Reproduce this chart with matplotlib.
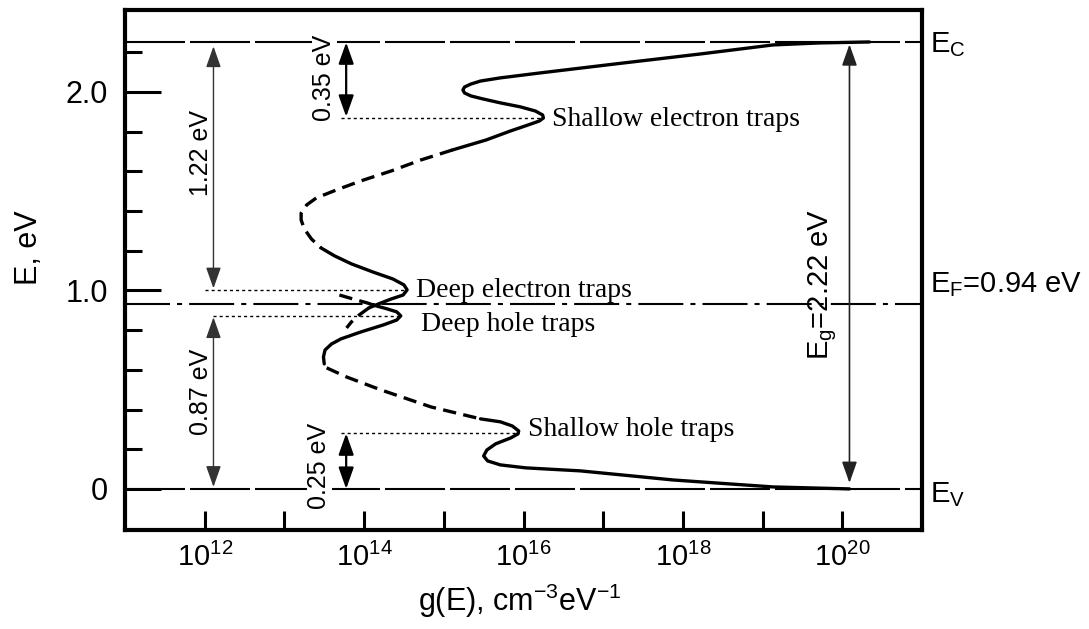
import numpy as np
import matplotlib
matplotlib.use("Agg")
import matplotlib.pyplot as plt

plt.rcParams['font.family'] = ['Liberation Sans', 'DejaVu Sans']
plt.rcParams['mathtext.fontset'] = 'custom'
plt.rcParams['mathtext.rm'] = 'Liberation Sans'
plt.rcParams['mathtext.it'] = 'Liberation Sans:italic'

# band levels, eV
E_v = 0.0
E_c = 2.25
E_f = 0.93

# density of states curve: log10(g) and E
# (solid / dashed pieces in drawing order)
seg1_lg = [20.34, 19.71, 19.13, 18.21, 17.21, 16.21, 15.71, 15.46, 15.34, 15.26, 15.24,
           15.26, 15.34, 15.49, 15.71, 15.96, 16.15, 16.24, 16.25, 16.20, 16.06, 15.84,
           15.53, 15.11]
seg1_E = [2.252, 2.247, 2.237, 2.191, 2.144, 2.096, 2.071, 2.055, 2.040, 2.025, 2.010,
          1.995, 1.980, 1.965, 1.945, 1.925, 1.904, 1.884, 1.869, 1.854, 1.834, 1.804,
          1.758, 1.708]

seg2_lg = [15.11, 14.71, 14.34, 13.96, 13.65, 13.40, 13.28, 13.21, 13.21, 13.25, 13.34, 13.46]
seg2_E = [1.708, 1.657, 1.602, 1.552, 1.506, 1.466, 1.431, 1.390, 1.355, 1.310, 1.259, 1.214]

seg3_lg = [13.46, 13.63, 13.84, 14.11, 14.36, 14.50, 14.54, 14.49, 14.34, 14.18, 14.06]
seg3_E = [1.214, 1.174, 1.134, 1.093, 1.058, 1.028, 1.003, 0.977, 0.957, 0.932, 0.912]

tail3_lg = [14.06, 13.94, 13.84, 13.78]
tail3_E = [0.912, 0.877, 0.841, 0.811]

seg4_lg = [13.69, 13.86, 14.04, 14.11]
seg4_E = [0.977, 0.957, 0.937, 0.927]

seg5_lg = [14.11, 14.29, 14.41, 14.46, 14.41, 14.24, 13.96, 13.71, 13.59, 13.51, 13.49, 13.50]
seg5_E = [0.927, 0.907, 0.892, 0.872, 0.851, 0.826, 0.791, 0.756, 0.730, 0.700, 0.665, 0.630]

seg6_lg = [13.53, 13.78, 14.21, 14.84, 15.46]
seg6_E = [0.610, 0.564, 0.499, 0.413, 0.353]

seg7_lg = [15.46, 15.71, 15.86, 15.94, 15.93, 15.84, 15.65, 15.54, 15.50, 15.55, 15.71,
           16.03, 16.71, 17.88, 19.13, 20.09]
seg7_E = [0.353, 0.338, 0.317, 0.292, 0.277, 0.257, 0.227, 0.196, 0.166, 0.141, 0.121,
          0.106, 0.091, 0.045, 0.010, 0.0]

solid_parts = [(seg1_lg, seg1_E), (seg3_lg, seg3_E), (seg5_lg, seg5_E), (seg7_lg, seg7_E)]
dashed_parts = [(seg2_lg, seg2_E), (tail3_lg, tail3_E), (seg4_lg, seg4_E), (seg6_lg, seg6_E)]

# trap levels (dotted guides): E, log10 g start, log10 g end
trap_E = [1.869, 1.003, 0.872, 0.282]
trap_lg0 = [13.71, 12.0, 12.1, 13.71]
trap_lg1 = [16.25, 14.54, 14.46, 15.94]
trap_names = ['Shallow electron traps', 'Deep electron traps', 'Deep hole traps', 'Shallow hole traps']
name_lg = [16.36, 14.65, 14.71, 16.06]
name_E = [1.86, 1.00, 0.83, 0.30]

x_ticks = [12, 13, 14, 15, 16, 17, 18, 19, 20]
x_labels = [r'$10^{12}$', '', r'$10^{14}$', '', r'$10^{16}$', '', r'$10^{18}$', '', r'$10^{20}$']

fig = plt.figure(figsize=(10.89, 6.29), dpi=100)
ax = fig.add_axes([125/1089, 99/629, 797/1089, 520/629])
ax.set_xscale('log')
ax.set_xlim(1e11, 1e21)
ax.set_ylim(-0.207, 2.413)

# band edges and fermi level
ax.axhline(E_c, color='black', lw=1.5, dashes=(28.8, 2.4))
ax.axhline(E_v, color='black', lw=1.5, dashes=(28.8, 2.4))
ax.axhline(E_f, color='black', lw=1.5, dashes=(21.6, 3.4, 2.4, 3.4))

for lg, E in solid_parts:
    ax.plot(10**np.array(lg), E, color='black', lw=2.4, solid_capstyle='round')
for lg, E in dashed_parts:
    ax.plot(10**np.array(lg), E, color='black', lw=2.4, dashes=(4, 2.2))

for E, a, b in zip(trap_E, trap_lg0, trap_lg1):
    ax.plot([10**a, 10**b], [E, E], color='black', lw=1.0, dashes=(2.2, 2.2))

for name, lg, E in zip(trap_names, name_lg, name_E):
    ax.text(10**lg, E, name, family='Liberation Serif', fontsize=20, va='center', ha='left')

# arrows
def arrow(lg, e0, e1, lw, color):
    ax.annotate('', xy=(10**lg, e1), xytext=(10**lg, e0),
                arrowprops=dict(arrowstyle='<|-|>,head_length=0.65,head_width=0.23',
                                lw=lw, color=color, shrinkA=0, shrinkB=0, mutation_scale=20))

arrow(12.11, 1.01, 2.23, 1.0, '#333333')
arrow(12.11, 0.01, 0.865, 1.0, '#333333')
arrow(13.775, 1.875, 2.25, 1.6, 'black')
arrow(13.775, 0.0, 0.28, 1.6, 'black')
arrow(20.09, 0.03, 2.24, 1.2, '#222222')

ax.text(10**11.95, 1.69, '1.22 eV', rotation=90, fontsize=18, ha='center', va='center')
ax.text(10**11.95, 0.49, '0.87 eV', rotation=90, fontsize=18, ha='center', va='center')
ax.text(10**13.5, 2.07, '0.35 eV', rotation=90, fontsize=18, ha='center', va='center',
        bbox=dict(fc='white', ec='none', pad=0.5))
ax.text(10**13.44, 0.115, '0.25 eV', rotation=90, fontsize=18, ha='center', va='center',
        bbox=dict(fc='white', ec='none', pad=0.5))
ax.text(10**19.76, 1.03, r'E$_\mathrm{g}$=2.22 eV', rotation=90, fontsize=21,
        ha='center', va='center')

# level labels on the right
tr = ax.get_yaxis_transform()
ax.text(1.01, 2.20, r'E$_\mathrm{C}$', transform=tr, fontsize=21, va='baseline', clip_on=False)
ax.text(1.01, 0.99, r'E$_\mathrm{F}$=0.94 eV', transform=tr, fontsize=21, va='baseline', clip_on=False)
ax.text(1.01, -0.065, r'E$_\mathrm{V}$', transform=tr, fontsize=21, va='baseline', clip_on=False)

# axes styling
for s in ax.spines.values():
    s.set_linewidth(3)

ax.set_xticks([10.0**k for k in x_ticks])
ax.set_xticklabels(x_labels)
ax.xaxis.set_minor_locator(matplotlib.ticker.NullLocator())
ax.tick_params(axis='x', which='major', direction='in', length=14, width=2.2,
               labelsize=21, pad=9, top=False)

ax.set_yticks([0, 1.0, 2.0])
ax.set_yticklabels(['0', '1.0', '2.0'])
ax.set_yticks([0.2, 0.4, 0.6, 0.8, 1.2, 1.4, 1.6, 1.8, 2.2], minor=True)
ax.tick_params(axis='y', which='major', direction='in', length=26, width=2.2,
               labelsize=22, pad=12, right=False)
ax.tick_params(axis='y', which='minor', direction='in', length=12, width=2.2, right=False)

ax.set_xlabel(r'g(E), cm$^\mathrm{-3}$eV$^\mathrm{-1}$', fontsize=22)
ax.xaxis.set_label_coords(0.496, -0.1)
ax.set_ylabel('E, eV', fontsize=22)
ax.yaxis.set_label_coords(-0.102, 0.542)

plt.savefig('out.png', dpi=100)
